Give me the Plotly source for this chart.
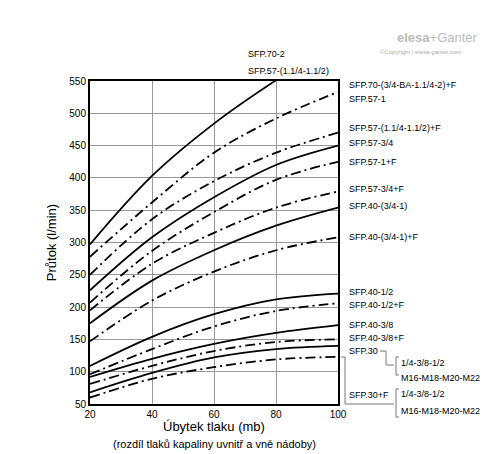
import plotly.graph_objects as go

# Úbytek tlaku (mb)
x_values = [20, 40, 60, 80, 100]

# Průtok (l/min) pro jednotlivé křivky
sfp70_2 = [297, 403, 484, 551, 610]
sfp70_f = [278, 362, 439, 492, 533]
sfp57_114_f = [250, 336, 395, 439, 470]
sfp57_34 = [226, 308, 370, 420, 450]
sfp57_1_f = [207, 287, 347, 397, 425]
sfp57_34_f = [195, 267, 315, 354, 379]
sfp40_34_1 = [175, 241, 288, 326, 354]
sfp40_34_1_f = [147, 210, 255, 288, 308]
sfp40_12 = [109, 154, 189, 212, 221]
sfp40_12_f = [96, 135, 170, 194, 206]
sfp40_38 = [92, 120, 143, 160, 172]
sfp40_38_f = [81, 109, 132, 146, 150]
sfp30 = [68, 98, 122, 135, 140]
sfp30_f = [60, 89, 107, 119, 123]

curves = [
    (sfp70_2, 'solid'), (sfp70_f, 'dashdot'), (sfp57_114_f, 'dashdot'),
    (sfp57_34, 'solid'), (sfp57_1_f, 'dashdot'), (sfp57_34_f, 'dashdot'),
    (sfp40_34_1, 'solid'), (sfp40_34_1_f, 'dashdot'),
    (sfp40_12, 'solid'), (sfp40_12_f, 'dashdot'),
    (sfp40_38, 'solid'), (sfp40_38_f, 'dashdot'),
    (sfp30, 'solid'), (sfp30_f, 'dashdot'),
]

# Popisky vpravo (text, y v pixelech)
labels = [
    ('SFP.70-(3/4-BA-1.1/4-2)+F', 77), ('SFP.57-1', 91),
    ('SFP.57-(1.1/4-1.1/2)+F', 120), ('SFP.57-3/4', 135),
    ('SFP.57-1+F', 154), ('SFP.57-3/4+F', 181), ('SFP.40-(3/4-1)', 198),
    ('SFP.40-(3/4-1)+F', 229), ('SFP.40-1/2', 284), ('SFP.40-1/2+F', 297),
    ('SFP.40-3/8', 317), ('SFP.40-3/8+F', 330), ('SFP.30', 343),
    ('SFP.30+F', 387),
]

W, H = 488, 454
L, R, T, B = 82, 330, 73, 396
FONT = 'Liberation Sans Narrow, Arial Narrow, Liberation Sans, Arial'


def px(x):
    return (x - L) / (R - L)


def py(y):
    return (B - y) / (B - T)


fig = go.Figure()
for ys, dash in curves:
    fig.add_trace(go.Scatter(
        x=x_values, y=ys, mode='lines',
        line=dict(color='black', width=1.8, shape='spline',
                  dash='solid' if dash == 'solid' else '10px,4px,2px,4px'),
        showlegend=False, cliponaxis=True,
    ))

ann = []
for text, y in labels:
    ann.append(dict(x=px(339), y=py(y), text=text))
ann += [
    dict(x=px(238), y=py(46), text='SFP.70-2'),
    dict(x=px(238), y=py(63), text='SFP.57-(1.1/4-1.1/2)'),
    dict(x=px(391), y=py(355), text='1/4-3/8-1/2'),
    dict(x=px(391), y=py(370), text='M16-M18-M20-M22'),
    dict(x=px(391), y=py(386), text='1/4-3/8-1/2'),
    dict(x=px(391), y=py(403), text='M16-M18-M20-M22'),
]
for a in ann:
    a.update(xref='paper', yref='paper', xanchor='left', yanchor='middle',
             showarrow=False, font=dict(family=FONT, size=9, color='black'))

# logo
ann.append(dict(x=px(472), y=py(20), xref='paper', yref='paper', xanchor='right',
                text='<b>elesa</b>+Ganter', showarrow=False,
                font=dict(family='Liberation Sans', size=13, color='#bbbbbb')))
ann.append(dict(x=px(455), y=py(39), xref='paper', yref='paper', xanchor='right',
                text='©Copyright | elesa-ganter.com', showarrow=False,
                font=dict(family='Liberation Sans', size=6, color='#aaaaaa')))
ann.append(dict(x=px(206), y=py(428), xref='paper', yref='paper',
                text='Úbytek tlaku (mb)', showarrow=False,
                font=dict(family=FONT, size=13, color='black')))
ann.append(dict(x=px(206), y=py(444), xref='paper', yref='paper',
                text='(rozdíl tlaků kapaliny uvnitř a vně nádoby)', showarrow=False,
                font=dict(family=FONT, size=11, color='black')))

shapes = []
gray = dict(color='#777777', width=1)
for pts in [
    [(372, 343), (378, 343), (378, 357), (386, 357)],
    [(333, 349), (337, 349), (337, 396), (386, 396)],
    [(391, 349), (388, 349), (388, 367), (391, 367)],
    [(391, 381), (388, 381), (388, 409), (391, 409)],
]:
    for (x0, y0), (x1, y1) in zip(pts[:-1], pts[1:]):
        shapes.append(dict(type='line', xref='paper', yref='paper',
                           x0=px(x0), y0=py(y0), x1=px(x1), y1=py(y1), line=gray))

fig.update_layout(
    width=W, height=H,
    margin=dict(l=L, r=W - R, t=T, b=H - B),
    plot_bgcolor='white', paper_bgcolor='white',
    font=dict(family=FONT, size=10, color='black'),
    annotations=ann, shapes=shapes,
    xaxis=dict(range=[20, 100], dtick=20, showgrid=True, gridcolor='#999999',
               showline=True, linecolor='black', linewidth=2, mirror=True,
               ticks='', zeroline=False),
    yaxis=dict(range=[50, 550], dtick=50, showgrid=True, gridcolor='#999999',
               showline=True, linecolor='black', linewidth=2, mirror=True,
               ticks='', title=dict(text='Průtok (l/min)', font=dict(size=13), standoff=10),
               zeroline=False),
)

fig.write_html("out.html")
